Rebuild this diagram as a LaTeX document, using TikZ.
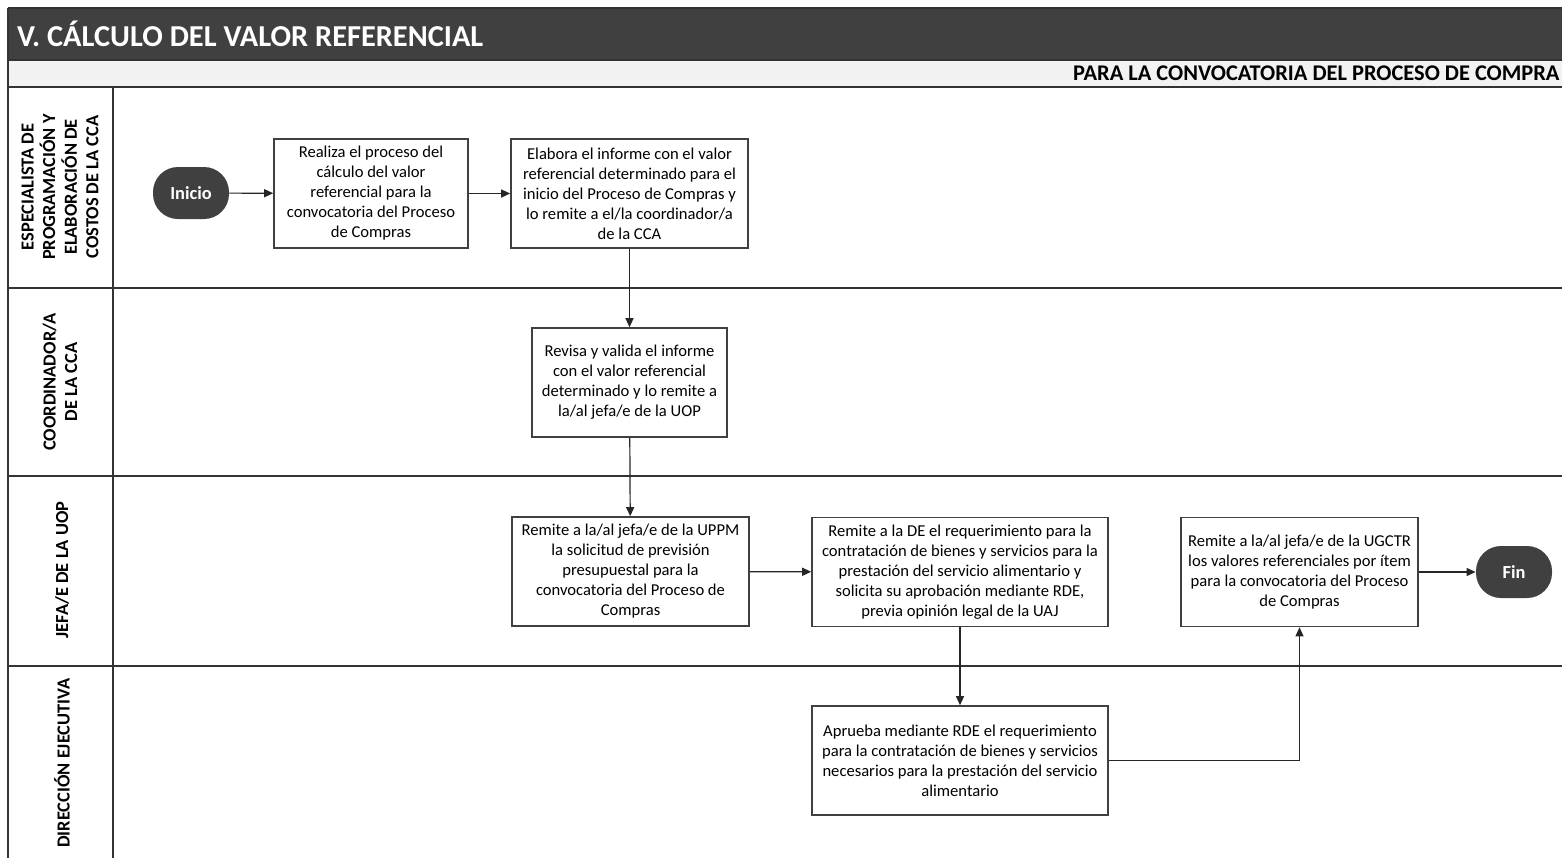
\documentclass[tikz,border=0pt]{standalone}
\usepackage{fontspec}
\setmainfont{Carlito}
\usetikzlibrary{arrows.meta}
\definecolor{oscuro}{HTML}{404040}
\definecolor{claro}{HTML}{F2F2F2}

\begin{document}
\begin{tikzpicture}[x=0.5pt, y=-0.5pt, >={Triangle[length=4.5pt, width=4pt]},
    paso/.style={draw=black!75, line width=0.8pt, fill=white, align=center,
        font=\fontsize{8.3}{10}\selectfont, minimum height=54.5pt, inner sep=1pt},
    terminal/.style={rectangle, rounded corners=12.5pt, fill=oscuro, text=white,
        font=\bfseries\fontsize{9.2}{10}\selectfont, minimum width=38pt, minimum height=26pt},
    flecha/.style={->, draw=black!85, line width=0.6pt},
    carril/.style={rotate=90, align=center, font=\bfseries\fontsize{9.2}{10.8}\selectfont},
    linea/.style={draw=black!80, line width=0.8pt}]
    \useasboundingbox (0,0) rectangle (1562,858);

    % Encabezado
    \fill[oscuro] (8,8) rectangle (1562,60);
    \draw[linea] (8,8) -- (1562,8);
    \node[anchor=west, text=white, font=\bfseries\fontsize{15.2}{17}\selectfont] (titulo) at (10,34) {V. CÁLCULO DEL VALOR REFERENCIAL};
    \fill[claro] (8,60) rectangle (1562,87);
    \draw[linea] (8,60) -- (1562,60);
    \node[anchor=east, font=\bfseries\fontsize{11.2}{13}\selectfont, inner sep=1pt] (subtitulo) at (1562,73) {PARA LA CONVOCATORIA DEL PROCESO DE COMPRA};

    % Carriles
    \draw[linea] (8,87) -- (1562,87);
    \draw[linea] (8,288) -- (1562,288);
    \draw[linea] (8,476) -- (1562,476);
    \draw[linea] (8,666) -- (1562,666);
    \draw[linea] (8,8) -- (8,858);
    \draw[linea] (113,87) -- (113,858);
    \node[carril] (c1) at (60,187) {ESPECIALISTA DE\\PROGRAMACIÓN Y\\ELABORACIÓN DE\\COSTOS DE LA CCA};
    \node[carril] (c2) at (60,382) {COORDINADOR/A\\DE LA CCA};
    \node[carril] (c3) at (62,570) {JEFA/E DE LA UOP};
    \node[carril] (c4) at (62,763) {DIRECCIÓN EJECUTIVA};

    % Actividades
    \node[terminal] (inicio) at (191,193) {Inicio};
    \node[paso, minimum width=97pt] (realiza) at (371,193.5) {Realiza el proceso del\\cálculo del valor\\referencial para la\\convocatoria del Proceso\\de Compras};
    \node[paso, minimum width=118.5pt] (elabora) at (629.5,193.5) {Elabora el informe con el valor\\referencial determinado para el\\inicio del Proceso de Compras y\\lo remite a el/la coordinador/a\\de la CCA};
    \node[paso, minimum width=97.5pt] (revisa) at (629.5,382.5) {Revisa y valida el informe\\con el valor referencial\\determinado y lo remite a\\la/al jefa/e de la UOP};
    \node[paso, minimum width=118.5pt] (uppm) at (630.5,571.5) {Remite a la/al jefa/e de la UPPM\\la solicitud de previsión\\presupuestal para la\\convocatoria del Proceso de\\Compras};
    \node[paso, minimum width=148pt] (de) at (960,572) {Remite a la DE el requerimiento para la\\contratación de bienes y servicios para la\\prestación del servicio alimentario y\\solicita su aprobación mediante RDE,\\previa opinión legal de la UAJ};
    \node[paso, minimum width=118.5pt] (ugctr) at (1299.5,572) {Remite a la/al jefa/e de la UGCTR\\los valores referenciales por ítem\\para la convocatoria del Proceso\\de Compras};
    \node[terminal] (fin) at (1514,572) {Fin};
    \node[paso, minimum width=148pt] (aprueba) at (960,760.5) {Aprueba mediante RDE el requerimiento\\para la contratación de bienes y servicios\\necesarios para la prestación del servicio\\alimentario};

    % Conectores
    \draw[flecha] (inicio) -- (realiza);
    \draw[flecha] (realiza) -- (elabora);
    \draw[flecha] (elabora) -- (revisa);
    \draw[flecha] (revisa) -- (uppm);
    \draw[flecha] (uppm) -- (de);
    \draw[flecha] (de) -- (aprueba);
    \draw[flecha] (aprueba.east) -| (ugctr.south);
    \draw[flecha] (ugctr) -- (fin);
\end{tikzpicture}
\end{document}
